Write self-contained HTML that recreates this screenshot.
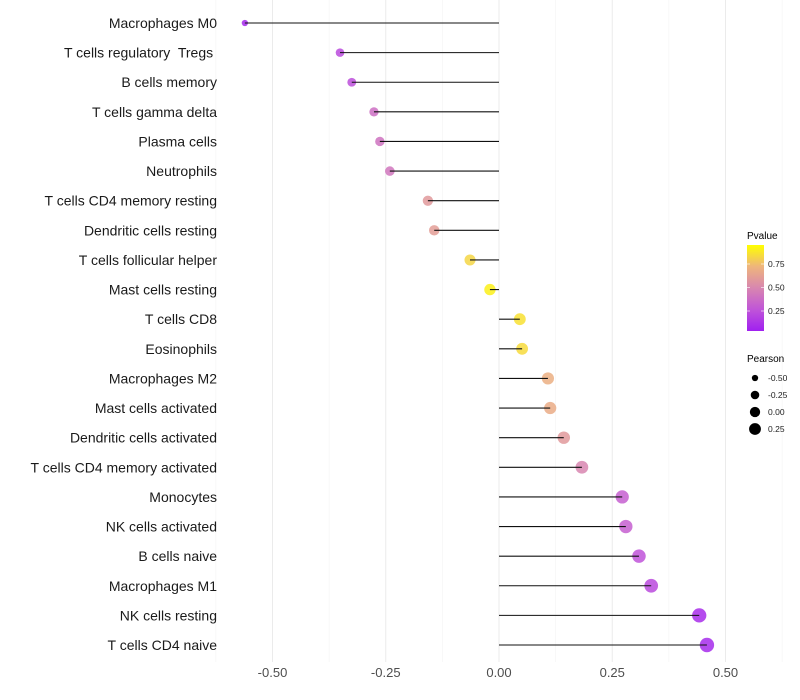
<!DOCTYPE html>
<html><head><meta charset="utf-8"><style>
body{margin:0;background:#fff;}
svg{display:block;font-family:"Liberation Sans",Arial,sans-serif;}
text{white-space:pre;}
</style></head><body>
<svg id="chart" width="800" height="700" viewBox="0 0 800 700">
<defs>
<linearGradient id="pg" x1="0" y1="1" x2="0" y2="0">
<stop offset="0" stop-color="#a020f0"/><stop offset="0.25" stop-color="#c055d8"/><stop offset="0.5" stop-color="#d886b0"/><stop offset="0.75" stop-color="#eeb57c"/><stop offset="1" stop-color="#ffff00"/>
</linearGradient>
</defs>
<g id="grid"></g>
<g id="marks"></g>
<g id="labels"></g>
<g id="xt"></g>
<g>
<text x="747" y="239" font-size="10" fill="#000">Pvalue</text>
<rect x="747" y="245" width="17" height="86" fill="url(#pg)"/>
<g id="cbt"></g>
</g>
<g id="sizeleg">
<text x="747" y="362" font-size="10" fill="#000">Pearson</text>
</g>
</svg>
<script>
const categories=["Macrophages M0","T cells regulatory  Tregs ","B cells memory","T cells gamma delta","Plasma cells","Neutrophils","T cells CD4 memory resting","Dendritic cells resting","T cells follicular helper","Mast cells resting","T cells CD8","Eosinophils","Macrophages M2","Mast cells activated","Dendritic cells activated","T cells CD4 memory activated","Monocytes","NK cells activated","B cells naive","Macrophages M1","NK cells resting","T cells CD4 naive"];
const pearson=[-0.561,-0.351,-0.325,-0.276,-0.263,-0.241,-0.157,-0.143,-0.064,-0.020,0.046,0.051,0.108,0.113,0.143,0.183,0.272,0.280,0.309,0.336,0.442,0.459];
const pvalue=[0.04,0.2,0.22,0.38,0.4,0.42,0.6,0.62,0.86,0.95,0.9,0.88,0.72,0.7,0.6,0.5,0.3,0.3,0.24,0.2,0.06,0.05];
const xTicks=[-0.5,-0.25,0,0.25,0.5];
const xTickLabels=["-0.50","-0.25","0.00","0.25","0.50"];
const cbTicks=[0.25,0.5,0.75];
const cbTickLabels=["0.25","0.50","0.75"];
const sizeLegend=[-0.5,-0.25,0,0.25];
const sizeLegendLabels=["-0.50","-0.25","0.00","0.25"];

const NS="http://www.w3.org/2000/svg";
const X=v=>499+v*453;
const Y=i=>23+i*(645-23)/(categories.length-1);
const R=v=>Math.sqrt(Math.max(2.5,32.9+41.1*v));
const stops=[[0,[160,32,240]],[0.25,[192,85,216]],[0.5,[216,134,176]],[0.75,[238,181,124]],[1,[255,255,0]]];
function col(p){p=Math.max(0,Math.min(1,p));for(let k=0;k<stops.length-1;k++){const a=stops[k],b=stops[k+1];if(p<=b[0]){const t=(p-a[0])/(b[0]-a[0]);return "rgb("+a[1].map((c,j)=>Math.round(c+(b[1][j]-c)*t)).join(",")+")";}}return "rgb(255,255,0)";}
function mk(tag,attrs,parent){const e=document.createElementNS(NS,tag);for(const k in attrs)e.setAttribute(k,attrs[k]);parent.appendChild(e);return e;}
const grid=document.getElementById('grid'),marks=document.getElementById('marks'),labels=document.getElementById('labels'),xt=document.getElementById('xt');
for(let v=-0.625;v<=0.626;v+=0.125){const major=Math.abs(v/0.25-Math.round(v/0.25))<1e-6;
 const g=mk('line',{x1:X(v),x2:X(v),y1:0,y2:662,stroke:major?'#ebebeb':'#f4f4f4','stroke-width':major?1:0.6},grid);
 
 }
xTicks.forEach((v,i)=>{const t=mk('text',{x:X(v),y:677,'text-anchor':'middle','font-size':13,fill:'#4d4d4d'},xt);t.textContent=xTickLabels[i];
 
 });
categories.forEach((c,i)=>{const y=Y(i);
 const t=mk('text',{x:217,y:y+5,'text-anchor':'end','font-size':14,fill:'#1a1a1a'},labels);t.textContent=c;
 
 
 const p=mk('circle',{cx:X(pearson[i]),cy:y,r:R(pearson[i]),fill:col(pvalue[i]),'fill-opacity':0.85},marks);
 
 
 const l=mk('line',{x1:X(0),x2:X(pearson[i]),y1:y,y2:y,stroke:'#111','stroke-width':1.1},marks);
 
 });
const cbt=document.getElementById('cbt');
cbTicks.forEach((v,i)=>{const y=334.5-v*94;
 mk('line',{x1:747,x2:750,y1:y,y2:y,stroke:'#fff','stroke-width':0.6},cbt);
 mk('line',{x1:761,x2:764,y1:y,y2:y,stroke:'#fff','stroke-width':0.6},cbt);
 const t=mk('text',{x:768,y:y+3,'font-size':8.5,fill:'#222'},cbt);t.textContent=cbTickLabels[i];
 
 });
const sl=document.getElementById('sizeleg');
sizeLegend.forEach((v,i)=>{const y=378+i*17;
 const c=mk('circle',{cx:755,cy:y,r:R(v)*0.9,fill:'#000'},sl);
 
 
 const t=mk('text',{x:768,y:y+3,'font-size':8.5,fill:'#222'},sl);t.textContent=sizeLegendLabels[i];
 
 });
</script>
</body></html>
